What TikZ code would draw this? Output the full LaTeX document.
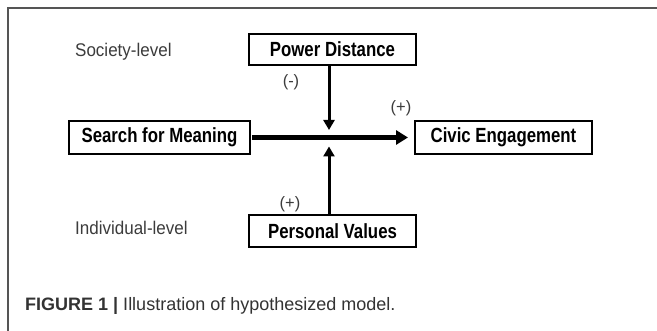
\documentclass[tikz,border=0pt]{standalone}
\usepackage{fontspec}
\setmainfont{Liberation Sans}
\usetikzlibrary{arrows.meta,calc}
\definecolor{txtgray}{HTML}{3C3C3C}
\definecolor{capgray}{HTML}{333333}
\definecolor{framegray}{HTML}{555555}
\tikzset{
  varbox/.style={draw=black, line width=2pt, rectangle, inner sep=0pt,
    font=\fontsize{16.8}{20}\selectfont\bfseries},
  lvl/.style={anchor=base west, inner sep=0pt, text=txtgray,
    font=\fontsize{17}{20}\selectfont},
  sign/.style={inner sep=0pt, text=txtgray, font=\fontsize{16.5}{19}\selectfont},
  mainarr/.style={line width=4.2pt, -{Triangle[length=12pt,width=14pt]}},
  modarr/.style={line width=3pt, -{Triangle[length=10pt,width=11pt]}}
}
\newcommand{\tallbox}[1]{\scalebox{1}[1.22]{#1}}
\begin{document}
\begin{tikzpicture}[x=1pt,y=-1pt]
\useasboundingbox (0,0) rectangle (657,331);
\fill[white] (0,0) rectangle (657,331);
% frame
\draw[framegray, line width=1.2pt] (8,331) -- (8,8) -- (657,8);
% boxes
\node[varbox, minimum width=167pt, minimum height=31pt] (PD) at (332.5,49.5) {\tallbox{Power Distance}};
\node[varbox, minimum width=181pt, minimum height=33pt] (SM) at (159.5,137.5) {\tallbox{Search for Meaning}};
\node[varbox, minimum width=177pt, minimum height=33pt] (CE) at (503.5,137.5) {\tallbox{Civic Engagement}};
\node[varbox, minimum width=167pt, minimum height=32pt] (PV) at (332.5,231) {\tallbox{Personal Values}};
% level labels
\node[lvl] (SL) at (75,56.5) {\scalebox{1}[1.08]{Society-level}};
\node[lvl] (IL) at (75,235) {\scalebox{1}[1.08]{Individual-level}};
% signs
\node[sign] (s1) at (291,82) {(-)};
\node[sign] (s2) at (401,108) {(+)};
\node[sign] (s3) at (290,204) {(+)};
% arrows
\coordinate (m) at (329,137.5);
\draw[mainarr, shorten <=1pt, shorten >=6pt] (SM.east) -- (CE.west);
\draw[modarr, shorten >=7.5pt] (PD.south -| m) -- (m);
\draw[modarr, shorten >=9pt] (PV.north -| m) -- (m);
% caption
\node[anchor=base west, inner sep=0pt, text=capgray, font=\fontsize{18}{21}\selectfont] (cap) at (25,311)
  {\textbf{FIGURE 1} \textbf{|} Illustration of hypothesized model.};
\end{tikzpicture}
\end{document}
